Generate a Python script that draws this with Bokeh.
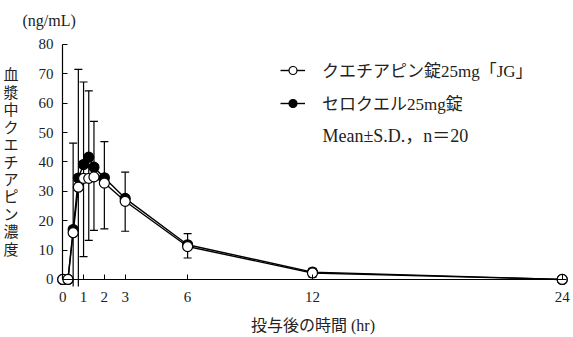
from bokeh.plotting import figure
from bokeh.models import Range1d, Legend, LegendItem, Label, FixedTicker, LinearAxis, Title
from bokeh.embed import file_html
from bokeh.resources import INLINE

# ---- data ----
hours = [0, 0.25, 0.5, 0.75, 1, 1.25, 1.5, 2, 3, 6, 12, 24]
generic_mean = [0, 0, 15.9, 31.4, 34.4, 34.4, 34.9, 32.8, 26.6, 11.2, 2.2, 0]
brand_mean = [0, 0, 17.0, 34.5, 39.1, 41.6, 38.2, 34.6, 27.6, 11.8, 2.5, 0]
err_hours = [0.5, 0.75, 1, 1.25, 1.5, 2, 3, 6, 12]
err_upper = [46.4, 71.5, 67.2, 64.2, 53.8, 46.9, 36.5, 15.6, 3.8]
err_lower = [-13.4, -5.5, 7.8, 13.3, 16.7, 17.2, 16.4, 7.3, 0.8]
x_ticks = [0, 1, 2, 3, 6, 12, 24]
y_ticks = [0, 10, 20, 30, 40, 50, 60, 70, 80]
generic_name = "クエチアピン錠25mg「JG」"
brand_name = "セロクエル25mg錠"
stats_note = "Mean±S.D.，n＝20"
y_title = "血漿中クエチアピン濃度"
y_unit = "(ng/mL)"
x_title = "投与後の時間 (hr)"

FONT = "Liberation Serif, Noto Sans CJK JP"
TXT = "#222222"
FL, FB = 56, 286   # frame left / frame bottom in page pixels (labels are frame-relative)

p = figure(width=573, height=337, output_backend="svg", toolbar_location=None,
           x_range=Range1d(-0.3, 24.35), y_range=Range1d(-2.4, 82),
           min_border_left=FL, min_border_right=4, min_border_top=38, min_border_bottom=337 - FB)
p.outline_line_color = None
p.grid.visible = False
p.background_fill_color = "white"
p.border_fill_color = "white"

# label-carrying axes at the frame edges (no line, no ticks)
for ax, ticks in ((p.xaxis[0], x_ticks), (p.yaxis[0], y_ticks)):
    ax.ticker = FixedTicker(ticks=ticks)
    ax.axis_line_color = None
    ax.major_tick_line_color = None
    ax.minor_tick_line_color = None
    ax.major_tick_in = 0
    ax.major_tick_out = 0
    ax.major_label_text_font = FONT
    ax.major_label_text_font_size = "15px"
    ax.major_label_text_color = TXT
    ax.axis_label_text_font = FONT
    ax.axis_label_text_font_style = "normal"
    ax.axis_label_text_color = TXT
p.xaxis[0].major_label_standoff = 5
p.yaxis[0].major_label_standoff = 3
p.xaxis[0].axis_label = x_title
p.xaxis[0].axis_label_text_font_size = "16px"
p.xaxis[0].axis_label_standoff = 12
p.yaxis[0].axis_label = "\n".join(y_title)
p.yaxis[0].axis_label_orientation = "horizontal"
p.yaxis[0].axis_label_text_font_size = "15px"
p.yaxis[0].axis_label_text_line_height = 1.09
p.yaxis[0].axis_label_standoff = 17

# axis lines + inward ticks crossing at the origin
xline = LinearAxis(ticker=FixedTicker(ticks=x_ticks), fixed_location=0, bounds=(0, 24.2))
yline = LinearAxis(ticker=FixedTicker(ticks=y_ticks), fixed_location=0, bounds=(0, 80))
for ax in (xline, yline):
    ax.axis_line_color = "black"
    ax.axis_line_width = 1.2
    ax.major_tick_line_color = "black"
    ax.major_tick_in = 5
    ax.major_tick_out = 0
    ax.minor_tick_line_color = None
    ax.major_label_standoff = 0
    ax.major_label_text_alpha = 0
    ax.major_label_text_font_size = "1px"
p.add_layout(xline, "below")
p.add_layout(yline, "left")

# unit title at the top-left
p.add_layout(Title(text=y_unit, align="left", offset=22 - FL, text_font=FONT,
                   text_font_size="16px", text_font_style="normal", text_color=TXT,
                   standoff=19), "above")

# error bars
p.segment(x0=err_hours, y0=err_lower, x1=err_hours, y1=err_upper,
          line_color="black", line_width=1.2)
p.scatter(x=err_hours, y=err_upper, marker="dash", size=8, line_color="black", line_width=1.2)
p.scatter(x=err_hours, y=err_lower, marker="dash", size=8, line_color="black", line_width=1.2)

# series
bl = p.line(hours, brand_mean, line_color="black", line_width=1.4)
bs = p.scatter(hours, brand_mean, marker="circle", size=10, fill_color="black",
               line_color="black", line_width=1.2)
gl = p.line(hours, generic_mean, line_color="black", line_width=1.4)
gs = p.scatter(hours, generic_mean, marker="circle", size=10, fill_color="white",
               line_color="black", line_width=1.2)

legend = Legend(items=[LegendItem(label=generic_name, renderers=[gl, gs]),
                       LegendItem(label=brand_name, renderers=[bl, bs])],
                location=(224, 171), orientation="vertical",
                glyph_width=25, glyph_height=20, label_height=20, label_standoff=17,
                spacing=8, padding=0, margin=0,
                border_line_color=None, background_fill_alpha=0,
                label_text_font=FONT, label_text_font_size="17px",
                label_text_color=TXT)
p.add_layout(legend, "center")

p.add_layout(Label(x=322 - FL, y=FB - 135, x_units="screen", y_units="screen", text=stats_note,
                   text_font=FONT, text_font_size="18px", text_color=TXT,
                   text_baseline="middle"))

open("out.html", "w").write(file_html(p, INLINE))
